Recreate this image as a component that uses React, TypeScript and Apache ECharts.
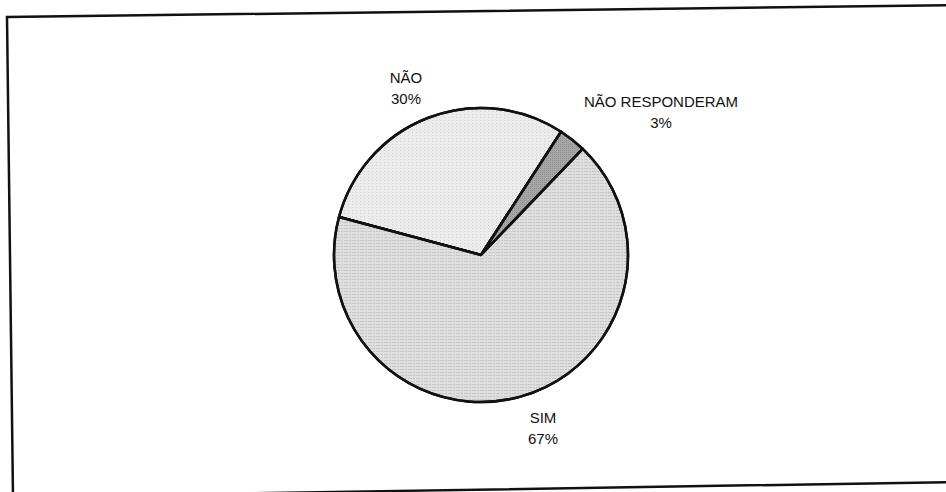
import React, { useEffect, useRef } from "react";
import * as echarts from "echarts";

const categories = ["NÃO", "NÃO RESPONDERAM", "SIM"];
const values = [30, 3, 67];

const sliceColors = ["#ebebeb", "#a6a6a6", "#dedede"];
const labelPos: [number, number][] = [
  [406, 88],
  [661, 112],
  [543, 428],
];

export default function App() {
  const ref = useRef<HTMLDivElement>(null);
  useEffect(() => {
    if (!ref.current) return;
    const chart = echarts.init(ref.current, undefined, { renderer: "svg" });
    const decals = [
      {
        symbol: "rect",
        symbolSize: 1,
        dashArrayX: [1, 3],
        dashArrayY: [1, 2],
        color: "rgba(0,0,0,0.10)",
      },
      {
        symbol: "rect",
        symbolSize: 1,
        dashArrayX: [1, 1],
        dashArrayY: [1, 1],
        color: "rgba(0,0,0,0.12)",
      },
      {
        symbol: "rect",
        symbolSize: 1,
        dashArrayX: [[4, 1, 2, 1]],
        dashArrayY: [1, 2],
        color: "rgba(0,0,0,0.10)",
      },
    ];
    chart.setOption({
      animation: false,
      backgroundColor: "#ffffff",
      graphic: [
        {
          type: "polyline",
          shape: { points: [[960, 5], [7, 17], [13, 497], [960, 482]] },
          style: { stroke: "#111", lineWidth: 2.5, fill: null },
          silent: true,
        },
      ],
      series: [
        {
          type: "pie",
          center: [481, 255],
          radius: 147,
          startAngle: 165,
          clockwise: true,
          avoidLabelOverlap: false,
          data: categories.map((name, i) => ({
            name,
            value: values[i],
            itemStyle: { color: sliceColors[i], decal: decals[i] },
          })),
          itemStyle: { borderColor: "#111", borderWidth: 2.5 },
          label: {
            show: true,
            position: "outside",
            formatter: (p: any) => `${p.name}\n${Math.round(p.percent)}%`,
            fontFamily: "Liberation Sans",
            fontSize: 15,
            lineHeight: 21,
            color: "#111",
            align: "center",
          },
          labelLine: { show: false },
          labelLayout: (params: any) => {
            const pos = labelPos[params.dataIndex];
            return { x: pos[0], y: pos[1], align: "center", verticalAlign: "middle" };
          },
          emphasis: { disabled: true },
        },
      ],
    });
    return () => chart.dispose();
  }, []);
  return (
    <div
      ref={ref}
      style={{ position: "fixed", left: 0, top: 0, width: 946, height: 492 }}
    />
  );
}
